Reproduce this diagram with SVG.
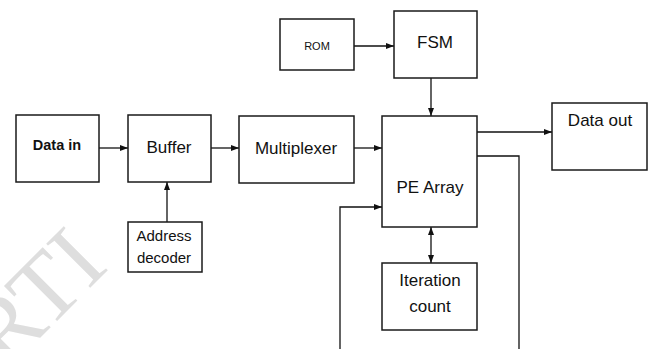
<svg xmlns="http://www.w3.org/2000/svg" width="651" height="349" viewBox="0 0 651 349">
  <defs>
    <marker id="arr" viewBox="0 0 8 8" refX="8" refY="4" markerWidth="8" markerHeight="8" markerUnits="userSpaceOnUse" orient="auto-start-reverse">
      <path d="M0,1 L8,4 L0,7 Z" fill="#111"/>
    </marker>
  </defs>
  <style>
    .box { fill: #fff; stroke: #1a1a1a; stroke-width: 1.5; }
    .lbl { font-family: "Liberation Sans", Arial, sans-serif; font-size: 17px; fill: #111; text-anchor: middle; }
    .wire { fill: none; stroke: #111; stroke-width: 1.3; }
    .mark { font-family: "Liberation Serif", "Times New Roman", serif; font-size: 95px; fill: #dedede; }
  </style>
  <rect width="651" height="349" fill="#fff"/>

  <!-- faint watermark -->
  <text class="mark" transform="translate(6,372) rotate(-45)">RTI</text>

  <g id="connectors">
    <line class="wire" x1="99" y1="148" x2="128" y2="148" marker-end="url(#arr)"/>
    <line class="wire" x1="211" y1="148" x2="239" y2="148" marker-end="url(#arr)"/>
    <line class="wire" x1="354" y1="148" x2="382" y2="148" marker-end="url(#arr)"/>
    <line class="wire" x1="167" y1="222" x2="167" y2="182" marker-end="url(#arr)"/>
    <line class="wire" x1="354" y1="46" x2="394" y2="46" marker-end="url(#arr)"/>
    <line class="wire" x1="431" y1="78" x2="431" y2="116" marker-end="url(#arr)"/>
    <line class="wire" x1="477" y1="132" x2="552" y2="132" marker-end="url(#arr)"/>
    <line class="wire" x1="431" y1="227" x2="431" y2="263" marker-start="url(#arr)" marker-end="url(#arr)"/>
    <polyline class="wire" points="477,156 519,156 519,349"/>
    <polyline class="wire" points="340,349 340,207 382,207" marker-end="url(#arr)"/>
  </g>

  <g id="data-in">
    <rect class="box" x="16" y="115" width="83" height="67"/>
    <text class="lbl" x="57" y="150" style="font-weight:bold;font-size:14.5px">Data in</text>
  </g>
  <g id="buffer">
    <rect class="box" x="128" y="115" width="83" height="67"/>
    <text class="lbl" x="169" y="153">Buffer</text>
  </g>
  <g id="address-decoder">
    <rect class="box" x="128" y="222" width="74" height="50"/>
    <text class="lbl" x="164" y="241" style="font-size:15px">Address</text>
    <text class="lbl" x="164" y="263" style="font-size:15px">decoder</text>
  </g>
  <g id="multiplexer">
    <rect class="box" x="239" y="116" width="115" height="67"/>
    <text class="lbl" x="296" y="154">Multiplexer</text>
  </g>
  <g id="rom">
    <rect class="box" x="280" y="19" width="74" height="51"/>
    <text class="lbl" x="317" y="50" style="font-size:11px">ROM</text>
  </g>
  <g id="fsm">
    <rect class="box" x="394" y="11" width="83" height="67"/>
    <text class="lbl" x="435" y="48">FSM</text>
  </g>
  <g id="pe-array">
    <rect class="box" x="382" y="116" width="95" height="111"/>
    <text class="lbl" x="430" y="193">PE Array</text>
  </g>
  <g id="iteration-count">
    <rect class="box" x="382" y="263" width="95" height="67"/>
    <text class="lbl" x="430" y="286">Iteration</text>
    <text class="lbl" x="430" y="312">count</text>
  </g>
  <g id="data-out">
    <rect class="box" x="552" y="103" width="95" height="67"/>
    <text class="lbl" x="600" y="126">Data out</text>
  </g>
</svg>
